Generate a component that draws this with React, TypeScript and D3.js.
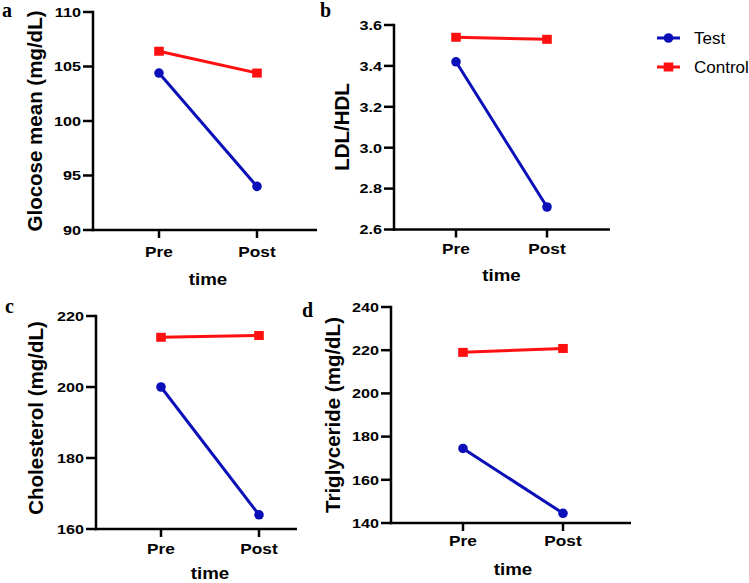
import React from "react";
import * as d3 from "d3";

// ---- data ----
const categories = ["Pre", "Post"];
const seriesNames = ["Test", "Control"];

const glucoseTest = [104.4, 94.0];
const glucoseControl = [106.4, 104.4];
const glucoseTicks = [90, 95, 100, 105, 110];

const ldlTest = [3.42, 2.71];
const ldlControl = [3.54, 3.53];
const ldlTicks = [2.6, 2.8, 3.0, 3.2, 3.4, 3.6];

const cholTest = [200, 164];
const cholControl = [214, 214.5];
const cholTicks = [160, 180, 200, 220];

const trigTest = [174.5, 144.5];
const trigControl = [219, 220.8];
const trigTicks = [140, 160, 180, 200, 220, 240];

const BLUE = "#0a0fb8";
const RED = "#ff1010";
const SANS = "'Liberation Sans', Arial, sans-serif";
const SERIF = "'Liberation Serif', 'Times New Roman', serif";

type PanelDef = {
  letter: string;
  title: string;
  test: number[];
  control: number[];
  ticks: number[];
  fmt: (v: number) => string;
  axisX: number;
  axisY: number;
  top: number;
  xEnd: number;
  pre: number;
  post: number;
  letterPos: [number, number];
  titlePos: [number, number];
  catOff: number;
  timeOff: number;
};

const panels: PanelDef[] = [
  {
    letter: "a", title: "Glocose mean (mg/dL)", test: glucoseTest, control: glucoseControl,
    ticks: glucoseTicks, fmt: d3.format("d"),
    axisX: 93, axisY: 230, top: 12, xEnd: 317, pre: 159, post: 257,
    letterPos: [2, 17], titlePos: [35, 121], catOff: 27, timeOff: 55,
  },
  {
    letter: "b", title: "LDL/HDL", test: ldlTest, control: ldlControl,
    ticks: ldlTicks, fmt: d3.format(".1f"),
    axisX: 394, axisY: 229.5, top: 25, xEnd: 610, pre: 456, post: 547,
    letterPos: [320, 17], titlePos: [342, 127], catOff: 24, timeOff: 51,
  },
  {
    letter: "c", title: "Cholesterol (mg/dL)", test: cholTest, control: cholControl,
    ticks: cholTicks, fmt: d3.format("d"),
    axisX: 96, axisY: 529, top: 316, xEnd: 297, pre: 161, post: 259,
    letterPos: [5, 313], titlePos: [36, 418], catOff: 25, timeOff: 50,
  },
  {
    letter: "d", title: "Triglyceride (mg/dL)", test: trigTest, control: trigControl,
    ticks: trigTicks, fmt: d3.format("d"),
    axisX: 391, axisY: 523, top: 307, xEnd: 631, pre: 463, post: 563,
    letterPos: [302, 317], titlePos: [333, 415], catOff: 23, timeOff: 52,
  },
];

function Marker({ kind, x, y, color }: { kind: string; x: number; y: number; color: string }) {
  if (kind === "circle") return <circle cx={x} cy={y} r={4.8} fill={color} />;
  return <rect x={x - 4.8} y={y - 4.5} width={9.6} height={9} fill={color} />;
}

function Panel({ p }: { p: PanelDef }) {
  const x = d3.scalePoint<string>().domain(categories).range([p.pre, p.post]);
  const ext = d3.extent(p.ticks) as [number, number];
  const y = d3.scaleLinear().domain(ext).range([p.axisY, p.top]);
  const line = d3
    .line<number>()
    .x((_, i) => x(categories[i]) as number)
    .y((v) => y(v));
  const series = [
    { name: seriesNames[0], values: p.test, color: BLUE, kind: "circle" },
    { name: seriesNames[1], values: p.control, color: RED, kind: "square" },
  ];
  const midX = ((x(categories[0]) as number) + (x(categories[1]) as number)) / 2;
  return (
    <g>
      <text x={p.letterPos[0]} y={p.letterPos[1]} fontFamily={SERIF} fontWeight="bold" fontSize={20}>
        {p.letter}
      </text>
      {/* y axis */}
      <line x1={p.axisX} x2={p.axisX} y1={y(ext[1]) - 1.2} y2={p.axisY + 1.2} stroke="#000" strokeWidth={2.5} />
      {p.ticks.map((t) => (
        <g key={t}>
          <line x1={p.axisX - 10} x2={p.axisX} y1={y(t)} y2={y(t)} stroke="#000" strokeWidth={2.5} />
          <text
            transform={`translate(${p.axisX - 12},${y(t)}) scale(1.2,1)`}
            textAnchor="end"
            dy="0.36em"
            fontFamily={SANS}
            fontWeight="bold"
            fontSize={13.5}
          >
            {p.fmt(t)}
          </text>
        </g>
      ))}
      {/* x axis */}
      <line x1={p.axisX - 1.2} x2={p.xEnd} y1={p.axisY} y2={p.axisY} stroke="#000" strokeWidth={2.5} />
      {categories.map((c) => (
        <g key={c}>
          <line x1={x(c)} x2={x(c)} y1={p.axisY} y2={p.axisY + 8} stroke="#000" strokeWidth={2.5} />
          <text
            transform={`translate(${x(c)},${p.axisY + p.catOff}) scale(1.15,1)`}
            textAnchor="middle"
            fontFamily={SANS}
            fontWeight="bold"
            fontSize={15}
          >
            {c}
          </text>
        </g>
      ))}
      <text
        transform={`translate(${midX},${p.axisY + p.timeOff}) scale(1.1,1)`}
        textAnchor="middle"
        fontFamily={SANS}
        fontWeight="bold"
        fontSize={17}
      >
        time
      </text>
      <text
        transform={`translate(${p.titlePos[0]},${p.titlePos[1]}) rotate(-90)`}
        textAnchor="middle"
        dy="0.35em"
        fontFamily={SANS}
        fontWeight="bold"
        fontSize={20.5}
      >
        {p.title}
      </text>
      {series.map((s) => (
        <g key={s.name}>
          <path d={line(s.values) || ""} fill="none" stroke={s.color} strokeWidth={3} />
          {s.values.map((v, i) => (
            <Marker key={i} kind={s.kind} x={x(categories[i]) as number} y={y(v)} color={s.color} />
          ))}
        </g>
      ))}
    </g>
  );
}

function Legend() {
  const items = [
    { name: seriesNames[0], color: BLUE, kind: "circle" },
    { name: seriesNames[1], color: RED, kind: "square" },
  ];
  const rows = d3.scalePoint<string>().domain(seriesNames).range([38, 67]);
  return (
    <g>
      {items.map((it) => {
        const yy = rows(it.name) as number;
        return (
          <g key={it.name}>
            <line x1={657} x2={680} y1={yy} y2={yy} stroke={it.color} strokeWidth={3} />
            <Marker kind={it.kind} x={668.5} y={yy} color={it.color} />
            <text x={694} y={yy} dy="0.36em" fontFamily={SANS} fontSize={17}>
              {it.name}
            </text>
          </g>
        );
      })}
    </g>
  );
}

export default function App() {
  return (
    <svg
      width={749}
      height={583}
      style={{ position: "absolute", left: 0, top: 0, background: "#fff" }}
    >
      <rect width={749} height={583} fill="#fff" />
      {panels.map((p) => (
        <Panel key={p.letter} p={p} />
      ))}
      <Legend />
    </svg>
  );
}
